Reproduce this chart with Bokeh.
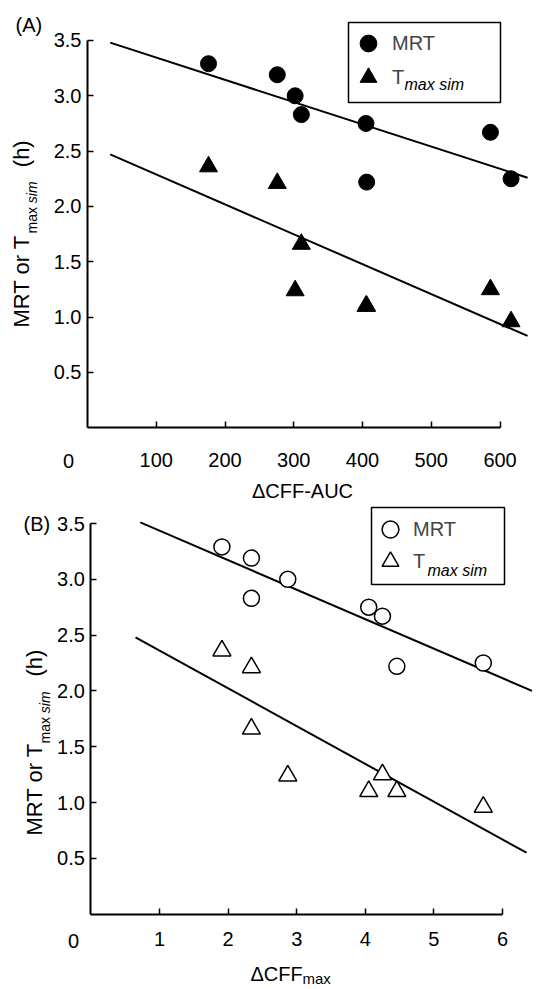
from math import pi
from bokeh.plotting import figure
from bokeh.models import (Range1d, FixedTicker, NumeralTickFormatter, Label,
                          Legend, LegendItem, BoxAnnotation)
from bokeh.layouts import column
from bokeh.embed import file_html
from bokeh.resources import INLINE

# ---------------- data ----------------
cff_auc = [176, 276, 302, 311, 405, 586, 406, 616]          # ΔCFF-AUC
cff_max = [1.91, 2.34, 2.87, 2.34, 4.05, 4.25, 4.46, 5.72]  # ΔCFFmax
mrt = [3.29, 3.19, 3.00, 2.83, 2.75, 2.67, 2.22, 2.25]      # MRT (h)
tmax_sim = [2.36, 2.21, 1.24, 1.66, 1.10, 1.25, 1.10, 0.96] # Tmax sim (h)

# regression lines (end points)
fitA_x = [33, 640]
fitA_mrt = [3.48, 2.26]
fitA_tmax = [2.47, 0.83]
fitB_mrt_x = [0.72, 6.43]
fitB_mrt = [3.51, 2.00]
fitB_tmax_x = [0.65, 6.35]
fitB_tmax = [2.48, 0.55]

y_ticks = [0.5, 1.0, 1.5, 2.0, 2.5, 3.0, 3.5]
xA_ticks = [100, 200, 300, 400, 500, 600]
xB_ticks = [1, 2, 3, 4, 5, 6]

FONT = "Liberation Sans"
W = 550
HA = 504
TB = HA
HB = 485


def make_panel(H, x0px, xscale, y0px, yscale, xticks, xbounds, xstand):
    # the plotting frame covers the whole canvas; axes sit at x=0 / y=0
    xr = Range1d(-x0px / xscale, (W - x0px) / xscale)
    yr = Range1d(-(H - y0px) / yscale, y0px / yscale)
    p = figure(width=W, height=H, x_range=xr, y_range=yr,
               min_border_left=0, min_border_right=0,
               min_border_top=0, min_border_bottom=0,
               output_backend="svg", toolbar_location=None,
               background_fill_color="white", border_fill_color="white")
    p.grid.visible = False
    p.outline_line_color = None
    for ax in (p.xaxis[0], p.yaxis[0]):
        ax.fixed_location = 0
        ax.axis_line_width = 2
        ax.axis_line_color = "black"
        ax.major_tick_in = 6
        ax.major_tick_out = 0
        ax.major_tick_line_width = 1.5
        ax.major_tick_line_color = "black"
        ax.minor_tick_line_color = None
        ax.major_label_text_font = FONT
        ax.major_label_text_font_size = "20px"
        ax.major_label_text_color = "black"
    p.xaxis.ticker = FixedTicker(ticks=xticks)
    p.xaxis.bounds = xbounds
    p.xaxis.major_label_standoff = xstand
    p.yaxis.ticker = FixedTicker(ticks=y_ticks)
    p.yaxis.formatter = NumeralTickFormatter(format="0.0")
    p.yaxis.bounds = (0, 3.5)
    p.yaxis.major_label_standoff = 6
    return p


def lab(p, H, top, px, py, text, size="20px", style="normal", angle=0,
        align="left"):
    # px, py: centre-line position on the page; converted to screen units
    p.add_layout(Label(x=px, y=H - (py - top), x_units="screen",
                       y_units="screen", text=text, text_font=FONT,
                       text_font_size=size, text_font_style=style,
                       angle=angle, text_align=align, text_baseline="middle",
                       text_color="black"))


def ytitle(p, H, top, cx, y0, ysub, ysim, yh):
    lab(p, H, top, cx, y0, "MRT or T", size="22px", angle=pi / 2)
    lab(p, H, top, cx + 10, ysub, "max", size="14px", angle=pi / 2)
    lab(p, H, top, cx + 10, ysim, "sim", size="14px", style="italic",
        angle=pi / 2)
    lab(p, H, top, cx, yh, "(h)", size="22px", angle=pi / 2)


def legend_row(p, H, top, cx, cy, label, renderer, standoff, lw):
    leg = Legend(items=[LegendItem(label=label, renderers=[renderer])],
                 location=(cx - 21, H - (cy + 21 - top)),
                 glyph_width=42, glyph_height=42, padding=0, spacing=0,
                 label_standoff=standoff, label_width=lw,
                 border_line_color=None, background_fill_alpha=0,
                 label_text_font=FONT, label_text_font_size="20px", margin=0)
    p.add_layout(leg)


def legend_box(p, H, top, l, r, t, b):
    p.add_layout(BoxAnnotation(left=l, right=r, top=H - (t - top),
                               bottom=H - (b - top), left_units="screen",
                               right_units="screen", top_units="screen",
                               bottom_units="screen", fill_alpha=0,
                               line_color="black", line_alpha=1,
                               line_width=1.5))


# ---------------- panel A ----------------
pA = make_panel(HA, 87, 0.6876, 427.3, 110.67, xA_ticks, (0, 600), 25)
pA.line(fitA_x, fitA_mrt, line_color="black", line_width=2)
pA.line(fitA_x, fitA_tmax, line_color="black", line_width=2)
a1 = pA.scatter(cff_auc, mrt, marker="circle", size=16, color="black")
a2 = pA.scatter(cff_auc, tmax_sim, marker="triangle", size=18, color="black")
legend_box(pA, HA, 0, 348, 500, 22, 102)
legend_row(pA, HA, 0, 368, 43, "MRT", a1, 3, 60)
legend_row(pA, HA, 0, 368, 77, "T", a2, 3, 60)
lab(pA, HA, 0, 404, 84, "max sim", size="16px", style="italic")
lab(pA, HA, 0, 15, 24, "(A)")
lab(pA, HA, 0, 68, 460, "0", align="center")
lab(pA, HA, 0, 302, 490, "\u0394CFF-AUC", align="center")
ytitle(pA, HA, 0, 21, 327, 233, 202.7, 166.7)

# ---------------- panel B ----------------
pB = make_panel(HB, 90.4, 68.6, 913.6 - TB, 111.6, xB_ticks, (0, 6), 18)
pB.line(fitB_mrt_x, fitB_mrt, line_color="black", line_width=2)
pB.line(fitB_tmax_x, fitB_tmax, line_color="black", line_width=2)
b1 = pB.scatter(cff_max, mrt, marker="circle", size=16, line_color="black",
                fill_color="white", line_width=1.5)
b2 = pB.scatter(cff_max, tmax_sim, marker="triangle", size=18,
                line_color="black", fill_color="white", line_width=1.5)
legend_box(pB, HB, TB, 371, 504, 507, 584)
legend_row(pB, HB, TB, 390, 529.3, "MRT", b1, 2, 50)
legend_row(pB, HB, TB, 390, 561, "T", b2, 2, 50)
lab(pB, HB, TB, 427, 570, "max sim", size="16px", style="italic")
lab(pB, HB, TB, 23, 523, "(B)")
lab(pB, HB, TB, 73, 940, "0", align="center")
lab(pB, HB, TB, 250, 973, "\u0394CFF")
lab(pB, HB, TB, 302, 978, "max", size="15px")
ytitle(pB, HB, TB, 34, 835, 743, 712.7, 676)

layout = column(pA, pB, spacing=0)
open("out.html", "w").write(file_html(layout, INLINE))
